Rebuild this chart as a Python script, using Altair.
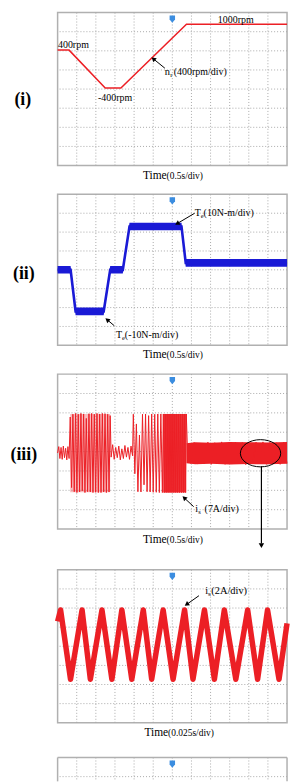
import altair as alt
import pandas as pd

# ---------------- values ----------------
# (i) rotor speed n_r [rpm] vs time [s]   (0.5 s/div, 400 rpm/div)
speed_t = [0.0, 0.30, 1.245, 1.655, 3.37, 6.0]
speed_rpm = [415, 415, -380, -380, 955, 955]

# (ii) electromagnetic torque T_e [N-m]   (10 N-m/div)
torque_t = [0.0, 0.34, 0.47, 1.205, 1.375, 1.705, 1.88, 3.24, 3.35, 6.0]
torque_nm = [0.0, 0.0, -22.0, -22.0, 0.0, 0.0, 23.0, 23.0, 3.7, 3.7]

# (iii) stator phase current i_s [A]   (7 A/div) - turning points of the trace
cur_t = [0.00, 0.03, 0.06, 0.09, 0.12, 0.15, 0.18, 0.21, 0.24, 0.27, 0.30,
         0.33, 0.365, 0.40, 0.435, 0.47, 0.505, 0.54, 0.575, 0.61, 0.645, 0.68,
         0.715, 0.75, 0.785, 0.82, 0.855, 0.89, 0.925, 0.96, 0.995, 1.03, 1.065,
         1.10, 1.135, 1.17, 1.205, 1.24, 1.275, 1.31, 1.345, 1.375,
         1.40, 1.44, 1.48, 1.52, 1.56, 1.60, 1.64, 1.68, 1.72, 1.76, 1.80, 1.84,
         1.88, 1.92, 1.96,
         1.98, 2.02, 2.06, 2.10, 2.14, 2.18, 2.22, 2.26, 2.30, 2.34, 2.38, 2.42,
         2.46, 2.50, 2.54, 2.58, 2.62, 2.66, 2.70, 2.74,
         2.765, 2.79, 2.815, 2.84, 2.865, 2.89, 2.915, 2.94, 2.965, 2.99, 3.015,
         3.04, 3.065, 3.09, 3.115, 3.14, 3.165, 3.19, 3.215, 3.24, 3.265, 3.29,
         3.315, 3.34, 3.365,
         3.39, 3.48, 3.57, 3.66, 3.75, 3.84, 3.93, 4.02, 4.11, 4.20, 4.29, 4.38,
         4.47, 4.56, 4.65, 4.74, 4.83, 4.92, 5.01, 5.10, 5.19, 5.28, 5.37, 5.46,
         5.55, 5.64, 5.73, 5.82, 5.91, 6.00]
cur_a = [-0.5, 1.8, -2.5, 1.5, -2.8, 2.0, -2.2, 1.2, -3.0, 1.8, -2.5,
         12.5, -13.0, 13.5, -14.5, 13.8, -14.8, 13.5, -14.6, 13.8, -14.2, 13.6,
         -14.8, 12.0, -14.5, 13.7, -14.6, 13.8, -14.8, 13.5, -14.7, 13.8, -14.8,
         13.6, -14.8, 13.8, -14.6, 13.7, -14.8, 13.5, -14.6, 13.0,
         -2.0, 2.5, -2.8, 1.5, -2.2, 2.0, -3.0, 1.0, -2.5, 2.2, -2.0, 1.5,
         -2.8, 2.0, -1.5,
         13.5, -8.0, 10.0, -14.5, 6.0, -14.6, 13.5, -12.0, 13.6, -14.5, 13.0, -14.6,
         13.6, -14.7, 13.5, -14.7, 13.6, -14.8, 13.6, -14.8,
         13.6, -14.8, 13.6, -14.8, 13.6, -14.8, 13.6, -14.8, 13.6, -14.8, 13.6,
         -14.8, 13.6, -14.8, 13.6, -14.8, 13.6, -14.8, 13.6, -14.8, 13.6, -14.8,
         13.6, -14.8, 13.6,
         3.0, -4.3, 3.3, -4.5, 3.1, -4.4, 3.4, -4.6, 3.2, -4.3, 3.5, -4.6,
         3.2, -4.5, 3.4, -4.4, 3.3, -4.7, 3.2, -4.5, 3.4, -4.4, 3.5, -4.6,
         3.3, -4.5, 3.2, -4.6, 3.4, -4.3]
# envelopes of the densely packed parts of the current trace
env_seg = ["b1", "b1", "b2", "b2", "ss", "ss", "ss", "ss", "ss", "ss", "ss"]
env_t = [0.33, 1.375, 2.765, 3.365, 3.37, 3.6, 4.0, 4.5, 5.0, 5.5, 6.0]
env_hi = [13.6, 13.6, 13.6, 13.6, 3.0, 3.4, 3.2, 3.5, 3.4, 3.3, 3.5]
env_lo = [-14.7, -14.7, -14.8, -14.8, -4.2, -4.6, -4.4, -4.7, -4.5, -4.6, -4.4]

# (iii) zoom: steady-state phase current [A]  (0.025 s/div, 2 A/div)
ss_t = [0.0, 0.0039, 0.0169, 0.032, 0.0428, 0.058, 0.071, 0.084, 0.097, 0.112,
        0.123, 0.138, 0.151, 0.166, 0.177, 0.192, 0.205, 0.218, 0.233, 0.2485,
        0.2615, 0.2745, 0.2895, 0.3]
ss_a = [2.6, 3.8, -3.45, 3.8, -3.45, 3.8, -3.45, 3.8, -3.45, 3.8,
        -3.45, 3.8, -3.45, 3.8, -3.45, 3.8, -3.45, 3.8, -3.45, 3.8,
        -3.45, 3.8, -3.45, 2.4]

# ---------------- styling ----------------
FONT = "Liberation Serif"
RED = "#ec1f25"
BLUE = "#1a1ad6"
GRID = "#a9a9a9"
EDGE = "#b0b0b0"
MARK = "#3b8de0"
W = 231
TRIG = "M-1,-1.3L1,-1.3L1,0.2L0,1.4L-1,0.2Z"
ELLIPSE = "M-1,0A1,0.675,0,1,1,1,0A1,0.675,0,1,1,-1,0Z"
ENV_OPACITY = {"b1": 0.3, "b2": 0.9, "ss": 1.0}
LABEL_FS = 18


def xy(xs, ys, xf="t", yf="v"):
    return dict(x=alt.X(f"{xf}:Q", scale=xs, axis=None),
                y=alt.Y(f"{yf}:Q", scale=ys, axis=None))


def grid_layers(xs, ys, xv, yv):
    vert = alt.Chart(pd.DataFrame({"t": xv})).mark_rule(
        color=GRID, strokeWidth=1, strokeDash=[1, 2]).encode(
        x=alt.X("t:Q", scale=xs, axis=None))
    horiz = alt.Chart(pd.DataFrame({"v": yv})).mark_rule(
        color=GRID, strokeWidth=1, strokeDash=[1, 2]).encode(
        y=alt.Y("v:Q", scale=ys, axis=None))
    return [vert, horiz]


def text_layer(rows, xs, ys, align="left", baseline="alphabetic", weight="normal"):
    df = pd.DataFrame(rows, columns=["label", "t", "v", "fs"])
    return alt.Chart(df).mark_text(align=align, baseline=baseline, font=FONT,
                                   fontWeight=weight, color="black").encode(
        text="label:N", size=alt.Size("fs:Q", scale=None), **xy(xs, ys))


def arrow_layers(rows, xs, ys):
    df = pd.DataFrame(rows, columns=["t", "v", "t2", "v2", "ang"])
    line = alt.Chart(df).mark_rule(color="black", strokeWidth=1).encode(
        x2="t2:Q", y2="v2:Q", **xy(xs, ys))
    head = alt.Chart(df).mark_point(shape="triangle", filled=True, color="black",
                                    size=28, opacity=1).encode(
        angle=alt.Angle("ang:Q", scale=None), **xy(xs, ys, "t2", "v2"))
    return [line, head]


def trig_layer(xs, ys, t, v):
    return alt.Chart(pd.DataFrame({"t": [t], "v": [v]})).mark_point(
        shape=TRIG, filled=True, color=MARK, size=30, opacity=1).encode(**xy(xs, ys))


def spacer(h):
    return alt.Chart(pd.DataFrame({"t": [0], "v": [0]})).mark_point(opacity=0).encode(
        x=alt.X("t:Q", axis=None), y=alt.Y("v:Q", axis=None)
    ).properties(width=W, height=h, view=alt.ViewBackground(stroke="transparent"))


# ---------------- panel (i): speed ----------------
xs1 = alt.Scale(domain=[0, 6], nice=False, zero=False)
ys1 = alt.Scale(domain=[-2000, 1200], nice=False, zero=False)
sec_grid = [0.5, 1.0, 1.5, 2.0, 2.5, 3.0, 3.5, 4.0, 4.5, 5.0, 5.5]
p1_layers = [
    *grid_layers(xs1, ys1, sec_grid, [-1600, -1200, -800, -400, 0, 400, 800]),
    alt.Chart(pd.DataFrame({"t": [-1.4805], "v": [1387], "t2": [-1.40], "v2": [1387]}))
    .mark_rule(opacity=0, strokeWidth=0.01).encode(x2="t2:Q", y2="v2:Q", **xy(xs1, ys1)),
    alt.Chart(pd.DataFrame({"t": speed_t, "v": speed_rpm})).mark_line(
        color=RED, strokeWidth=1.5).encode(**xy(xs1, ys1)),
    text_layer([("400rpm", 0.01, 452, 10), ("-400rpm", 1.057, -649, 10),
                ("1000rpm", 4.19, 986, 10), ("n", 2.805, -103, 10.5),
                ("r", 2.943, -140, 7), ("(400rpm/div)", 3.039, -103, 10)], xs1, ys1),
    text_layer([("(i)", -0.909, -629, LABEL_FS)], xs1, ys1, "center", "middle", "bold"),
    text_layer([("Time", 2.85, -2291, 11.5)], xs1, ys1, "right"),
    text_layer([("(0.5s/div)", 2.85, -2291, 9.5)], xs1, ys1),
    *arrow_layers([(2.805, 36, 2.519, 223, 309)], xs1, ys1),
    trig_layer(xs1, ys1, 3.0, 1065),
]
p1 = alt.layer(*p1_layers).properties(width=W, height=154)

# ---------------- panel (ii): torque ----------------
ys2 = alt.Scale(domain=[-40, 40], nice=False, zero=False)
torque_df = pd.DataFrame({"t": torque_t, "v": torque_nm})
p2_layers = [
    *grid_layers(xs1, ys2, sec_grid, [-30, -20, -10, 0, 10, 20, 30]),
    alt.Chart(torque_df)
    .transform_calculate(hi="datum.v + 2.0", lo="datum.v - 2.0")
    .mark_area(color=BLUE, opacity=1).encode(
        x=alt.X("t:Q", scale=xs1, axis=None),
        y=alt.Y("hi:Q", scale=ys2, axis=None), y2="lo:Q"),
    alt.Chart(torque_df).mark_line(color=BLUE, strokeWidth=2.6).encode(**xy(xs1, ys2)),
    text_layer([("T", 3.584, 28.3, 10), ("e", 3.743, 27.4, 6.5),
                ("(10N-m/div)", 3.818, 28.3, 10),
                ("T", 1.525, -36.2, 10), ("e", 1.683, -37.1, 6.5),
                ("(-10N-m/div)", 1.758, -36.2, 10)], xs1, ys2),
    text_layer([("(ii)", -0.883, -2.1, LABEL_FS)], xs1, ys2, "center", "middle", "bold"),
    text_layer([("Time", 2.85, -46.8, 11.5)], xs1, ys2, "right"),
    text_layer([("(0.5s/div)", 2.85, -46.8, 9.5)], xs1, ys2),
    *arrow_layers([(3.584, 30.0, 3.143, 24.7, 240),
                   (1.481, -29.6, 1.312, -26.7, 310)], xs1, ys2),
    trig_layer(xs1, ys2, 3.0, 36.6),
]
p2 = alt.layer(*p2_layers).properties(width=W, height=152)

# ---------------- panel (iii): phase current ----------------
ys3 = alt.Scale(domain=[-28, 28], nice=False, zero=False)
env_df = pd.DataFrame({"seg": env_seg, "t": env_t, "hi": env_hi, "lo": env_lo})
env_df["op"] = env_df["seg"].map(ENV_OPACITY)
p3_layers = [
    *grid_layers(xs1, ys3, sec_grid, [-21, -14, -7, 0, 7, 14, 21]),
    alt.Chart(env_df).mark_area(color=RED).encode(
        x=alt.X("t:Q", scale=xs1, axis=None),
        y=alt.Y("hi:Q", scale=ys3, axis=None), y2="lo:Q",
        detail="seg:N", opacity=alt.Opacity("op:Q", scale=None)),
    alt.Chart(pd.DataFrame({"t": cur_t, "v": cur_a})).mark_line(
        color=RED, strokeWidth=1).encode(**xy(xs1, ys3)),
    text_layer([("i", 3.602, -22.0, 10), ("s", 3.675, -22.5, 6.5),
                ("(7A/div)", 3.844, -22.0, 10)], xs1, ys3),
    text_layer([("(iii)", -0.883, -1.33, LABEL_FS)], xs1, ys3, "center", "middle", "bold"),
    text_layer([("Time", 2.85, -33.0, 11.5)], xs1, ys3, "right"),
    text_layer([("(0.5s/div)", 2.85, -33.0, 9.5)], xs1, ys3),
    *arrow_layers([(3.558, -19.9, 3.325, -16.9, 313)], xs1, ys3),
    alt.Chart(pd.DataFrame({"t": [5.307], "v": [-0.6]})).mark_point(
        shape=ELLIPSE, filled=False, color="black", strokeWidth=1, size=1648,
        opacity=1).encode(**xy(xs1, ys3)),
    alt.Chart(pd.DataFrame({"t": [5.33], "v": [-5.3], "t2": [5.33], "v2": [-33.2]}))
    .mark_rule(color="black", strokeWidth=1.2).encode(x2="t2:Q", y2="v2:Q", **xy(xs1, ys3)),
    alt.Chart(pd.DataFrame({"t": [5.33], "v": [-34.0]})).mark_point(
        shape="triangle-down", filled=True, color="black", size=30, opacity=1).encode(**xy(xs1, ys3)),
    trig_layer(xs1, ys3, 3.0, 25.7),
]
p3 = alt.layer(*p3_layers).properties(width=W, height=156)

# ---------------- panel: zoomed steady-state current ----------------
xs4 = alt.Scale(domain=[0, 0.3], nice=False, zero=False)
ys4 = alt.Scale(domain=[-8, 8], nice=False, zero=False)
fine_grid = [0.025, 0.05, 0.075, 0.1, 0.125, 0.15, 0.175, 0.2, 0.225, 0.25, 0.275]
p4_layers = [
    *grid_layers(xs4, ys4, fine_grid, [-6, -4, -2, 0, 2, 4, 6]),
    alt.Chart(pd.DataFrame({"t": ss_t, "v": ss_a})).mark_line(
        color=RED, strokeWidth=5.5, strokeJoin="round").encode(**xy(xs4, ys4)),
    text_layer([("i", 0.1931, 5.46, 10.5), ("s", 0.1968, 5.31, 7),
                ("(2A/div)", 0.2009, 5.46, 10.5)], xs4, ys4),
    text_layer([("Time", 0.1445, -9.36, 11.5)], xs4, ys4, "right"),
    text_layer([("(0.025s/div)", 0.1445, -9.36, 9.5)], xs4, ys4),
    *arrow_layers([(0.1848, 5.29, 0.1695, 4.42, 235)], xs4, ys4),
    trig_layer(xs4, ys4, 0.15, 7.32),
]
p4 = alt.layer(*p4_layers).properties(width=W, height=154)

# ---------------- next panel (only its top is visible) ----------------
xs5 = alt.Scale(domain=[0, 12], nice=False, zero=False)
ys5 = alt.Scale(domain=[2.753, 4], nice=False, zero=False)
edge_df = pd.DataFrame({"t": [0, 0, 12], "v": [4, 2.753, 2.753],
                        "t2": [12, 0, 12], "v2": [4, 4, 4]})
p5_layers = [
    *grid_layers(xs5, ys5, [1, 2, 3, 4, 5, 6, 7, 8, 9, 10, 11], [3]),
    alt.Chart(edge_df).mark_rule(color=EDGE, strokeWidth=1.5).encode(
        x2="t2:Q", y2="v2:Q", **xy(xs5, ys5)),
    trig_layer(xs5, ys5, 6, 3.662),
]
p5 = alt.layer(*p5_layers, view=alt.ViewBackground(stroke="transparent")).properties(
    width=W, height=24)

chart = alt.vconcat(p1, spacer(29), p2, spacer(29), p3, spacer(41), p4, spacer(35), p5,
                    spacing=0, bounds="flush").properties(
    padding=0, background="white"
).configure_view(stroke=EDGE, strokeWidth=1.5)

chart.save("out.html", embed_options={"renderer": "svg", "actions": False})
